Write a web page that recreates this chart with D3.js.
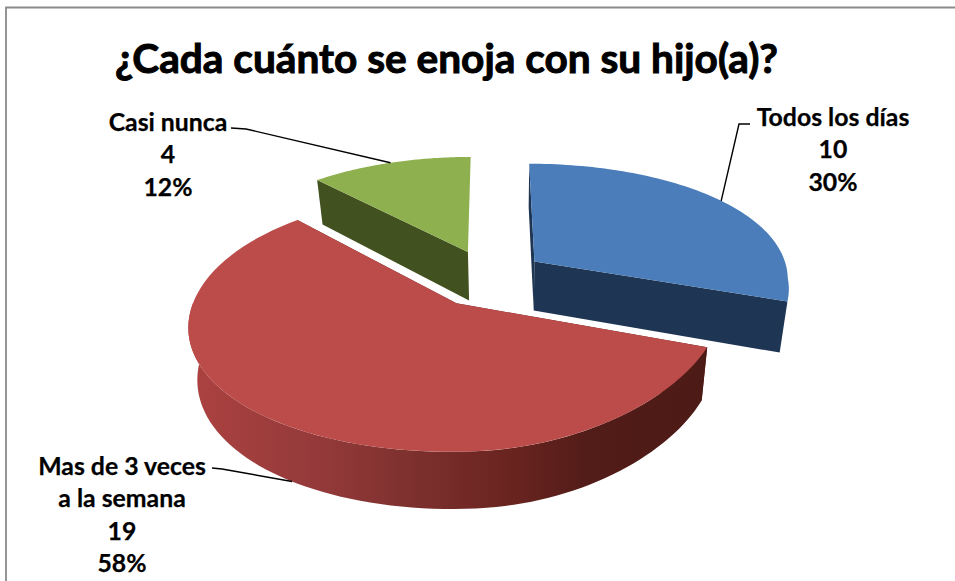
<!DOCTYPE html>
<html><head><meta charset="utf-8">
<script src="https://cdn.jsdelivr.net/npm/d3@7"></script>
<style>html,body{margin:0;padding:0;background:#fff;overflow:hidden}svg{display:block}
text{font-family:Lato,"Open Sans",sans-serif;font-weight:700;fill:#000}</style>
</head><body><svg id="c" width="955" height="581"></svg>
<script>
const categories = ["Todos los días", "Mas de 3 veces a la semana", "Casi nunca"];
const values = [10, 19, 4];
const percents = ["30%", "58%", "12%"];
const labelLines = [["Todos los días"], ["Mas de 3 veces", "a la semana"], ["Casi nunca"]];
const title = "¿Cada cuánto se enoja con su hijo(a)?";
const topColors = ["#4a7db9", "#bb4c49", "#8fb04f"];
const wallColors = ["#1e3553", "#5a1e1a", "#41511f"];
const rimStops = [
  [["0", "#ab4240"], ["0.25", "#93393a"], ["0.42", "#7c302d"], ["0.6", "#6a2420"], ["0.75", "#521c18"], ["1", "#4c1a16"]]
];
const labelCenterX = [833, 122, 168];
const labelFirstY = [117, 466, 122];
const labelElbows = [[[750,124],[739,124]], [[212,468],[222,469]], [[231,128],[246,129]]];
const labelFromBottom = [false, true, false];

const svg = d3.select("#c");
const W = 955, H = 581;
svg.append("rect").attr("width", W).attr("height", H).attr("fill", "#fff");
svg.append("path").attr("d", d3.line()([[6, H], [6, 7.5], [W, 7.5]])).attr("fill", "none")
  .attr("stroke", "#8a8a8a").attr("stroke-width", 1.8);

// projection of the tilted disc
const ox = 488.5, oy = 278, FX = 255, FY = 122;
const explodeX = 0.225, explodeU = 0.24;
const vx = 510, wallShrink = 0.972, wallDepth = 50;
function project(slice, theta, r, bottom) {
  const m = (slice.startAngle + slice.endAngle) / 2;
  const x = r * Math.sin(theta) + explodeX * Math.sin(m);
  const u = -r * Math.cos(theta) - explodeU * Math.cos(m);
  const dx = x < 0 ? 1 - 0.16 * u : (u < 0 ? 1 - 0.13 * u : 1 - 0.2 * Math.min(u, 0.2));
  const pu = u < 0 ? 0.19 : 0.13;
  let X = ox + FX * x / dx;
  let Y = oy + FY * u / (1 - pu * u);
  if (bottom) {
    X = vx + (X - vx) * wallShrink;
    Y = Y + wallDepth * (1 + 0.12 * u);
  }
  return [X, Y];
}
const line = d3.line();
const pie = d3.pie().sort(null).value(d => d);
const slices = pie(values);

function rim(s, a0, a1, bottom) {
  const n = 80;
  return d3.range(n + 1).map(i => project(s, a0 + (a1 - a0) * i / n, 1, bottom));
}
const redSlice = slices[1];
const grad = svg.append("defs").append("linearGradient").attr("id", "rimRed")
  .attr("gradientUnits", "userSpaceOnUse")
  .attr("x1", project(redSlice, -Math.PI / 2, 1, false)[0])
  .attr("x2", project(redSlice, Math.PI / 2, 1, false)[0])
  .attr("y1", 0).attr("y2", 0);
rimStops[0].forEach(st => grad.append("stop").attr("offset", st[0]).attr("stop-color", st[1]));

[2, 0, 1].forEach(i => {
  const s = slices[i];
  const g = svg.append("g");
  const a = s.startAngle, b = s.endAngle;
  const apexT = project(s, 0, 0, false), apexB = project(s, 0, 0, true);
  // radial walls (the wall at the very back of the last slice is hidden)
  [a, b].filter(t => t < 2 * Math.PI - 1e-6).forEach(t => {
    const pT = project(s, t, 1, false), pB = project(s, t, 1, true);
    g.append("path").attr("d", line([apexT, pT, pB, apexB]) + "Z").attr("fill", wallColors[i]);
  });
  // outer wall of the large front slice
  if (i === 1) {
    const fa = Math.max(a, Math.PI / 2), fb = Math.min(b, 3 * Math.PI / 2);
    g.append("path").attr("d", line(rim(s, fa, fb, false).concat(rim(s, fa, fb, true).reverse())) + "Z")
      .attr("fill", "url(#rimRed)");
  }
  // top face
  g.append("path").attr("d", line([apexT].concat(rim(s, a, b, false))) + "Z").attr("fill", topColors[i]);
});

// leader lines
slices.forEach((s, i) => {
  const m = (s.startAngle + s.endAngle) / 2;
  const tip = project(s, m, 1, labelFromBottom[i]);
  svg.append("path").attr("d", line(labelElbows[i].concat([tip]))).attr("fill", "none")
    .attr("stroke", "#000").attr("stroke-width", 1.4);
});

// labels
const lh = 32.5;
slices.forEach((s, i) => {
  const lines = labelLines[i].concat([String(values[i]), percents[i]]);
  lines.forEach((t, j) => {
    svg.append("text").attr("x", labelCenterX[i]).attr("y", labelFirstY[i] + j * lh)
      .attr("dy", "0.35em").attr("text-anchor", "middle").attr("font-size", 24.8)
      .attr("stroke", "#000").attr("stroke-width", 0.25).text(t);
  });
});
svg.append("text").attr("x", 446.5).attr("y", 73).attr("text-anchor", "middle")
  .attr("font-size", 41).attr("textLength", 663).attr("lengthAdjust", "spacingAndGlyphs")
  .attr("stroke", "#000").attr("stroke-width", 1).text(title);
</script></body></html>
